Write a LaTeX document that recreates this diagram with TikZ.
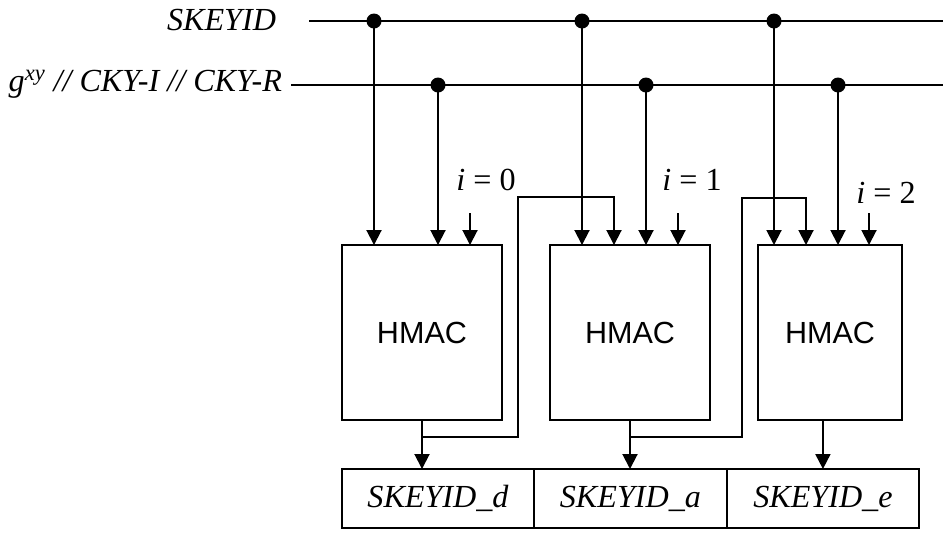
\documentclass[tikz,border=0pt]{standalone}
\usepackage{fontspec}
\setmainfont{Liberation Serif}
\setsansfont{Liberation Sans}
\usetikzlibrary{arrows.meta,positioning,calc}

\begin{document}
\begin{tikzpicture}[x=0.02cm,y=-0.02cm,line width=1.1pt,
    lbl/.style={font=\fontsize{18.3}{21}\selectfont\itshape,inner sep=0pt},
    hmac/.style={draw,minimum width=3.2cm,minimum height=3.5cm,outer sep=0pt,
        font=\fontsize{17.4}{20}\selectfont\sffamily},
    keybox/.style={draw,minimum width=3.85cm,minimum height=1.18cm,outer sep=0pt,
        font=\fontsize{18.3}{21}\selectfont\itshape},
    feed/.style={-{Triangle[length=0.3cm,width=0.3cm]}},
    dot/.style={circle,fill,inner sep=0pt,minimum size=0.3cm}]
    \useasboundingbox (0,0) rectangle (943,532);

    % input lines
    \node[lbl,anchor=east] (lsk) at (277,20) {SKEYID};
    \node[lbl,anchor=east] (lg) at (283,84) {g\textsuperscript{xy} // CKY-I // CKY-R};
    \coordinate (sk0) at (309,21);
    \coordinate (sk1) at (943,21);
    \coordinate (g0) at (291,85);
    \coordinate (g1) at (943,85);
    \draw (sk0) -- (sk1);
    \draw (g0) -- (g1);

    % HMAC blocks
    \node[hmac] (h0) at (422,332.5) {HMAC};
    \node[hmac] (h1) at (630,332.5) {HMAC};
    \node[hmac,minimum width=2.88cm] (h2) at (830,332.5) {HMAC};

    % output keys
    \node[keybox] (kd) at (438,498.5) {SKEYID\_d};
    \node[keybox,right=0pt of kd] (ka) {SKEYID\_a};
    \node[keybox,right=0pt of ka] (ke) {SKEYID\_e};

    % taps
    \node[dot] (s0) at (374,21) {};
    \node[dot] (s1) at (582,21) {};
    \node[dot] (s2) at (774,21) {};
    \node[dot] (t0) at (438,85) {};
    \node[dot] (t1) at (646,85) {};
    \node[dot] (t2) at (838,85) {};
    \draw[feed] (s0.center) -- (s0 |- h0.north);
    \draw[feed] (t0.center) -- (t0 |- h0.north);
    \draw[feed] (s1.center) -- (s1 |- h1.north);
    \draw[feed] (t1.center) -- (t1 |- h1.north);
    \draw[feed] (s2.center) -- (s2 |- h2.north);
    \draw[feed] (t2.center) -- (t2 |- h2.north);

    % counters
    \node[lbl,font=\fontsize{18.3}{21}\selectfont] (i0) at (486,180) {\textit{i} = 0};
    \node[lbl,font=\fontsize{18.3}{21}\selectfont] (i1) at (692,180) {\textit{i} = 1};
    \node[lbl,font=\fontsize{18.3}{21}\selectfont] (i2) at (886,193) {\textit{i} = 2};
    \coordinate (c0) at (470,213);
    \coordinate (c1) at (678,213);
    \coordinate (c2) at (869,213);
    \draw[feed] (c0) -- (c0 |- h0.north);
    \draw[feed] (c1) -- (c1 |- h1.north);
    \draw[feed] (c2) -- (c2 |- h2.north);

    % outputs and feedback
    \coordinate (j0) at ($(h0.south)+(0,17)$);
    \coordinate (j1) at ($(h1.south)+(0,17)$);
    \draw[feed] (h0.south) -- (h0.south |- kd.north);
    \draw[feed] (h1.south) -- (h1.south |- ka.north);
    \draw[feed] (h2.south -| ke.north) -- (ke.north);
    \draw[feed] (j0) -- ++(96,0) |- (614,197) -- (614,0 |- h1.north);
    \draw[feed] (j1) -- ++(112,0) |- (806,198) -- (806,0 |- h2.north);
\end{tikzpicture}
\end{document}
